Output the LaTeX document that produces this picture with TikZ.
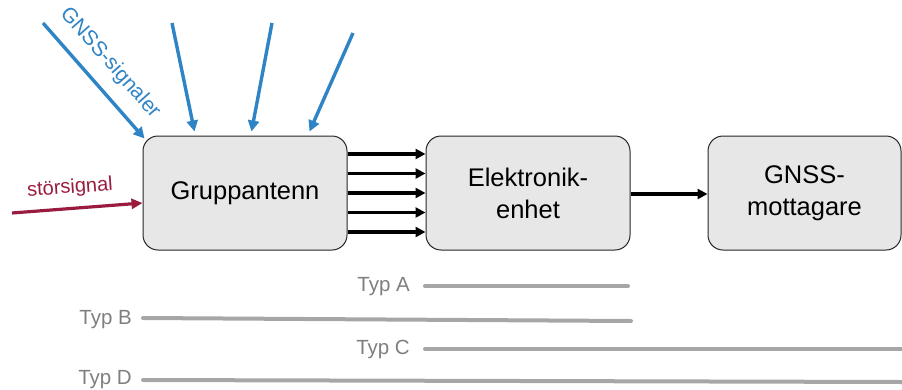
\documentclass[tikz,border=0pt]{standalone}
\usepackage{fontspec}
\setmainfont{Liberation Sans}
\usetikzlibrary{arrows.meta,calc}
\definecolor{boxfill}{HTML}{E7E7E7}
\definecolor{sigblue}{HTML}{2F84C6}
\definecolor{jamred}{HTML}{9A1B3D}
\definecolor{typgray}{HTML}{A6A6A6}
\definecolor{labgray}{HTML}{7F7F7F}
\begin{document}
\begin{tikzpicture}[x=1pt,y=-1pt,
  block/.style={draw=black!85, line width=1pt, fill=boxfill, rounded corners=15pt,
    minimum height=114pt, align=center, inner sep=0pt,
    font=\fontsize{25.5}{32}\selectfont},
  flow/.style={line width=3.4pt, -{Triangle[length=10pt,width=10pt]}},
  gnss/.style={draw=sigblue, line width=3.4pt, -{Triangle[length=11pt,width=11pt]}},
  jam/.style={draw=jamred, line width=3.2pt, -{Triangle[length=11pt,width=10pt]}},
  typline/.style={draw=typgray, line width=4pt, line cap=round},
  typlabel/.style={text=labgray, font=\fontsize{20.5}{24}\selectfont, inner sep=0pt, anchor=east}]
\useasboundingbox (0,0) rectangle (902,389);

\node[block, minimum width=204pt] (g) at (245,193) {Gruppantenn};
\node[block, minimum width=204pt] (e) at (528,193) {Elektronik-\\enhet};
\node[block, minimum width=193pt] (m) at (804.5,193) {GNSS-\\mottagare};

\foreach \yy in {154,173.5,193,212.5,232}
  \draw[flow] (g.east |- 0,\yy) -- (e.west |- 0,\yy);
\draw[flow] (e.east |- 0,194) -- (m.west |- 0,194);

% GNSS signals
\coordinate (s1) at (43,23);
\coordinate (s2) at (172,23);
\coordinate (s3) at (272,23);
\coordinate (s4) at (353,33);
\draw[gnss] (s1) -- ($(g.north west)+(2,3)$);
\draw[gnss] (s2) -- ($(g.north west)+(52,-4)$);
\draw[gnss] (s3) -- ($(g.north west)+(109,-4)$);
\draw[gnss] (s4) -- ($(g.north west)+(167,-4)$);
\node[text=sigblue, font=\fontsize{21}{24}\selectfont, rotate=-48.5, inner sep=0pt]
  (lbl) at (110,63) {GNSS-signaler};

% jamming signal
\coordinate (j0) at (12,213);
\draw[jam] (j0) -- ($(g.west)+(0,10)$);
\node[text=jamred, font=\fontsize{20}{24}\selectfont, rotate=4, inner sep=0pt]
  (jl) at (70,188) {störsignal};

% Types
\coordinate (aS) at (425,286); \coordinate (aE) at (628,286);
\coordinate (bS) at (143,318); \coordinate (bE) at (631,321);
\coordinate (cS) at (425,349); \coordinate (cE) at (902,349);
\coordinate (dS) at (143,380); \coordinate (dE) at (902,382);
\node[typlabel] (ta) at (410,287) {Typ A};
\node[typlabel] (tb) at (132,320) {Typ B};
\node[typlabel] (tc) at (410,349) {Typ C};
\node[typlabel] (td) at (132,380) {Typ D};
\draw[typline] (aS) -- (aE);
\draw[typline] (bS) -- (bE);
\draw[typline] (cS) -- (cE);
\draw[typline] (dS) -- (dE);
\end{tikzpicture}
\end{document}
